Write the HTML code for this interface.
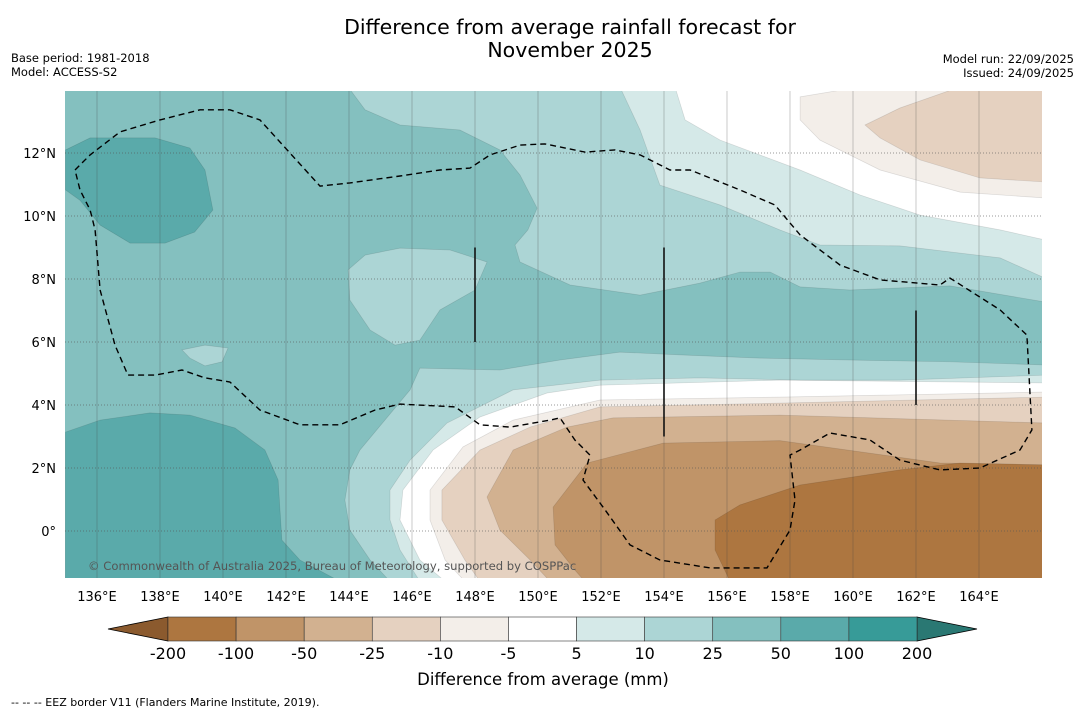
<!DOCTYPE html>
<html><head><meta charset="utf-8">
<style>
body{margin:0;background:#fff;font-family:"DejaVu Sans","Liberation Sans",sans-serif;}
svg{display:block}
</style></head>
<body>
<svg id="chart" width="1085" height="713" viewBox="0 0 1085 713" xmlns="http://www.w3.org/2000/svg" font-family="DejaVu Sans, Liberation Sans, sans-serif">
<text x="570" y="34" font-size="20.5" text-anchor="middle">Difference from average rainfall forecast for</text>
<text x="570" y="57" font-size="20.5" text-anchor="middle">November 2025</text>
<text x="11" y="62" font-size="11.5">Base period: 1981-2018</text>
<text x="11" y="76" font-size="11.5">Model: ACCESS-S2</text>
<text x="1074" y="63" font-size="11.5" text-anchor="end">Model run: 22/09/2025</text>
<text x="1074" y="77" font-size="11.5" text-anchor="end">Issued: 24/09/2025</text>
<defs><clipPath id="mapclip"><rect x="65" y="91" width="977" height="487"/></clipPath></defs>
<g id="map" clip-path="url(#mapclip)"></g>
<g id="axes"></g>
<g id="cbar"></g>
<text x="543" y="685" font-size="16.5" text-anchor="middle">Difference from average (mm)</text>
<text x="11" y="706" font-size="11">--  --  -- EEZ border V11 (Flanders Marine Institute, 2019).</text>
</svg>
<script>
const NS='http://www.w3.org/2000/svg';
const lonTicks=[136,138,140,142,144,146,148,150,152,154,156,158,160,162,164];
const latTicks=[0,2,4,6,8,10,12];
const cbarLevels=['-200','-100','-50','-25','-10','-5','5','10','25','50','100','200'];
const cbarColors=['#ad7640','#c09468','#d2b190','#e5d1c0','#f3eee9','#ffffff','#d5e9e8','#acd5d5','#84c0bf','#5aaaaa','#379b98'];
const lowArrowColor='#8b5a2e', highArrowColor='#2a7873';
const baseClass=8;
const dry50TopLeft=[[135,12.1],[135.78,12.48],[137.84,12.48],[138.95,12.16],[139.43,11.46],[139.68,10.19],[139.1,9.49],[138.16,9.14],[137.05,9.14],[136.1,9.71],[135.46,10.5],[135,10.83]];
const wet50BottomLeft=[[135,3.14],[136.1,3.52],[137.68,3.75],[138.95,3.68],[140.38,3.27],[141.33,2.57],[141.75,1.62],[141.87,-0.29],[142.44,-0.92],[143.71,-1.6],[135,-1.6]];
const top10=[[143.97,14.1],[144.51,13.37],[145.62,12.89],[147.52,12.73],[148.79,12.1],[149.43,11.3],[149.97,10.25],[149.68,9.56],[149.27,9.08],[149.43,8.54],[151.02,7.81],[153.24,7.49],[155.14,7.87],[156.41,8.22],[157.37,8.22],[158.32,7.75],[159.9,7.65],[163.08,7.78],[166.1,7.27],[166.1,14.1]];
const top5=[[152.6,14.1],[153.24,12.73],[153.87,10.98],[155.78,10.35],[157.68,9.56],[158.95,9.08],[161.49,9.05],[164.67,8.67],[166.1,8.03],[166.1,14.1]];
const topWhite=[[154.35,14.1],[154.67,13.05],[155.78,12.41],[158.32,11.46],[160.22,10.67],[162.13,10.03],[164.67,9.56],[166.1,9.24],[166.1,14.1]];
const topM5=[[158.32,13.78],[160.22,14.1],[166.1,14.1],[166.1,10.57],[163.4,10.76],[160.86,11.46],[158.95,12.41],[158.32,13.05]];
const topM10=[[160.38,12.89],[161.49,13.43],[163.4,14.1],[166.1,14.1],[166.1,11.08],[164.03,11.21],[162.13,11.78],[160.86,12.48]];
const mid10=[[143.97,8.29],[144.51,8.76],[145.62,8.98],[147.21,8.92],[148.38,8.54],[148.0,7.65],[146.89,7.02],[146.25,6.06],[145.46,5.9],[144.67,6.38],[144.03,7.33]];
const small10=[[138.7,5.75],[139.43,5.9],[140.16,5.81],[139.97,5.37],[139.43,5.24],[138.95,5.49]];
const low10=[[146.25,5.17],[148.79,5.11],[150.7,5.43],[152.6,5.68],[154.51,5.59],[157.05,5.49],[159.9,5.43],[163.08,5.37],[166.1,5.27],[166.1,-1.6],[145.3,-1.6],[144.67,-0.92],[144.03,0.03],[143.87,0.98],[144.03,1.94],[144.35,2.57],[145.14,3.52],[145.94,4.48]];
const low5=[[166.1,4.95],[161.49,4.79],[158.32,4.79],[155.14,4.86],[151.97,4.79],[149.21,4.48],[147.11,3.43],[145.94,2.25],[145.3,1.3],[145.3,0.35],[145.62,-0.6],[146.25,-1.6],[166.1,-1.6]];
const lowWhite=[[166.1,4.7],[157.68,4.79],[151.97,4.63],[150.29,4.38],[148.16,3.62],[146.67,2.57],[145.71,1.3],[145.62,0.35],[146.25,-0.92],[147.05,-1.6],[166.1,-1.6]];
const lowM5=[[166.1,4.41],[157.68,4.25],[151.97,4.16],[149.21,3.52],[147.62,2.67],[146.57,1.3],[146.57,0.35],[147.05,-0.92],[147.68,-1.6],[166.1,-1.6]];
const lowM10=[[166.1,4.25],[157.68,4.06],[151.97,3.94],[149.75,3.3],[148.16,2.57],[146.95,1.3],[146.95,0.35],[147.68,-0.92],[148.16,-1.6],[166.1,-1.6]];
const lowM25=[[166.1,3.43],[157.68,3.68],[152.38,3.59],[150.92,3.3],[149.21,2.57],[148.38,1.08],[148.79,0.03],[149.75,-0.92],[150.38,-1.6],[166.1,-1.6]];
const lowM50=[[166.1,2.1],[162.76,2.16],[157.68,2.87],[153.97,2.79],[151.56,2.16],[150.48,0.76],[150.54,-0.44],[151.17,-1.24],[151.49,-1.6],[166.1,-1.6]];
const lowM100=[[155.62,0.35],[156.41,0.83],[158.32,1.46],[161.49,1.94],[163.4,2.16],[166.1,2.1],[166.1,-1.6],[156.1,-1.6],[155.62,-0.6]];
const eez=[[135.3,11.46],[135.78,11.94],[136.73,12.67],[138,13.05],[139.27,13.37],[140.22,13.37],[141.17,13.05],[143.08,10.95],[144.03,11.05],[145.62,11.27],[146.89,11.46],[147.84,11.52],[148.48,11.94],[149.43,12.25],[150.22,12.29],[151.49,12.03],[152.44,12.1],[153.24,11.94],[154.19,11.46],[154.83,11.46],[156.41,10.83],[157.52,10.35],[158.32,9.4],[159.59,8.44],[160.86,7.97],[162.76,7.81],[163.08,8.03],[164.67,7.02],[165.52,6.22],[165.68,3.21],[165.3,2.57],[164.03,2.0],[162.76,1.94],[161.49,2.25],[160.54,2.89],[159.27,3.11],[158.32,2.57],[158.0,2.41],[158.16,0.98],[158.0,0.03],[157.27,-1.17],[155.46,-1.17],[153.87,-0.92],[152.92,-0.44],[152.13,0.67],[151.43,1.62],[151.65,2.41],[151.17,2.89],[150.7,3.59],[150.38,3.52],[149.11,3.3],[148.16,3.37],[147.37,3.94],[145.62,4.03],[144.83,3.84],[143.71,3.37],[142.44,3.37],[141.17,3.84],[140.22,4.73],[139.43,4.86],[138.7,5.11],[137.84,4.95],[136.98,4.95],[136.57,5.9],[136.1,7.65],[135.94,9.56],[135.78,10.19],[135.46,10.83],[135.3,11.46]];
const ridgeLines=[[148,9.0,6.0],[154,9.0,3.0],[162,7.0,4.0]];

const X=lon=>97+(lon-136)*31.5, Y=lat=>531-lat*31.5;
const map=document.getElementById('map');
function mk(tag,attrs,parent){const e=document.createElementNS(NS,tag);for(const k in attrs)e.setAttribute(k,attrs[k]);parent.appendChild(e);return e;}
const bg=mk('rect',{x:65,y:91,width:977,height:487,fill:cbarColors[baseClass]},map);


const layers=[['contour-50-100-top-left',dry50TopLeft,9],['contour-50-100-bottom-left',wet50BottomLeft,9],['contour-10-25-top',top10,7],['contour-5-10-top',top5,6],['contour-white-top',topWhite,5],['contour-minus5-top',topM5,4],['contour-minus10-top',topM10,3],['contour-10-25-mid',mid10,7],['contour-10-25-small',small10,7],['contour-10-25-low',low10,7],['contour-5-10-low',low5,6],['contour-white-low',lowWhite,5],['contour-minus5-low',lowM5,4],['contour-minus10-low',lowM10,3],['contour-minus25-low',lowM25,2],['contour-minus50-low',lowM50,1],['contour-minus100-low',lowM100,0]];
layers.forEach(([n,pts,c])=>{
  const p=mk('polygon',{points:pts.map(q=>X(q[0]).toFixed(1)+','+Y(q[1]).toFixed(1)).join(' '),fill:cbarColors[c],stroke:'rgba(0,0,0,0.12)','stroke-width':0.7},map);
  
  
});
lonTicks.forEach(l=>{const g=mk('line',{x1:X(l),x2:X(l),y1:91,y2:578,stroke:'#444','stroke-width':0.8,opacity:0.35},map);
  
  });
latTicks.forEach(l=>{const g=mk('line',{x1:65,x2:1042,y1:Y(l),y2:Y(l),stroke:'#555','stroke-width':0.7,'stroke-dasharray':'1,2',opacity:0.8},map);
  
  });
ridgeLines.forEach(r=>{const g=mk('line',{x1:X(r[0]),x2:X(r[0]),y1:Y(r[1]),y2:Y(r[2]),stroke:'#111','stroke-width':1.6},map);
  
  });
const ez=mk('polyline',{points:eez.map(q=>X(q[0]).toFixed(1)+','+Y(q[1]).toFixed(1)).join(' '),fill:'none',stroke:'#000','stroke-width':1.4,'stroke-dasharray':'6,4'},map);


const cp=mk('text',{x:88,y:570,'font-size':11.6,fill:'#555'},map);
cp.textContent='© Commonwealth of Australia 2025, Bureau of Meteorology, supported by COSPPac';


const axes=document.getElementById('axes');
lonTicks.forEach(l=>{const t=mk('text',{x:X(l),y:601,'font-size':13,'text-anchor':'middle'},axes);t.textContent=l+'°E';
  
  });
latTicks.forEach(l=>{const t=mk('text',{x:56,y:Y(l)+5,'font-size':13,'text-anchor':'end'},axes);t.textContent=l===0?'0°':l+'°N';
  
  });
const cb=document.getElementById('cbar');
const x0=168,x1=917,yt=617,yb=641,bw=(x1-x0)/cbarColors.length;
const la=mk('polygon',{points:`${x0},${yt} 108,${(yt+yb)/2} ${x0},${yb}`,fill:lowArrowColor,stroke:'#000','stroke-width':0.8},cb);


const ra=mk('polygon',{points:`${x1},${yt} 977,${(yt+yb)/2} ${x1},${yb}`,fill:highArrowColor,stroke:'#000','stroke-width':0.8},cb);


cbarColors.forEach((c,i)=>{const r=mk('rect',{x:x0+i*bw,y:yt,width:bw,height:yb-yt,fill:c,stroke:'#333','stroke-width':0.6},cb);
  
  });
cbarLevels.forEach((s,i)=>{const t=mk('text',{x:x0+i*bw,y:659,'font-size':16,'text-anchor':'middle'},cb);t.textContent=s;
  
  });
</script>
</body></html>
